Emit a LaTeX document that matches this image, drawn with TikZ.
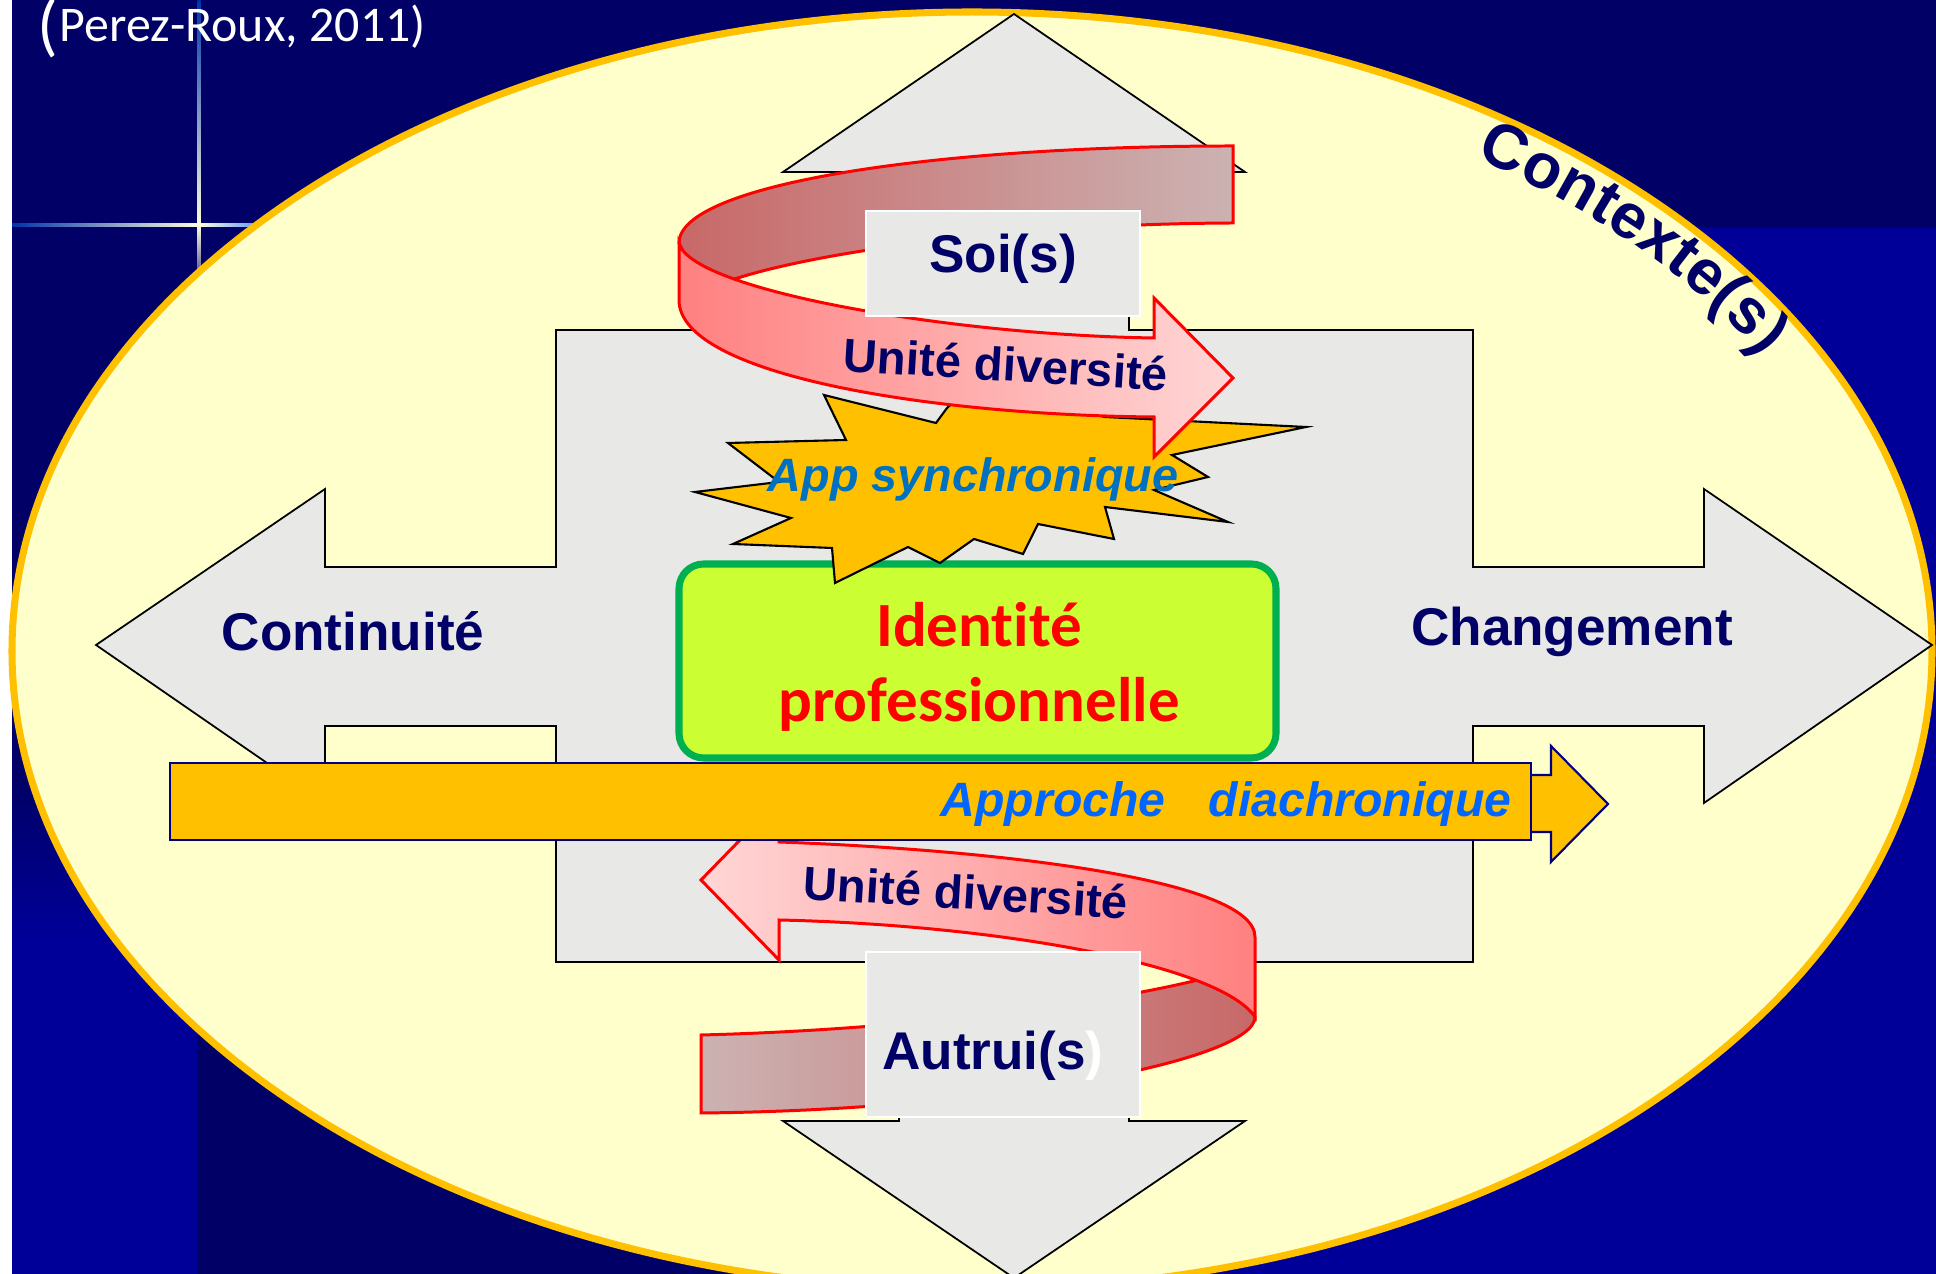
\documentclass[tikz,border=0pt]{standalone}
\usepackage{fontspec}
\setmainfont{Liberation Sans}
\newfontfamily\calfont[Ligatures=NoCommon]{Carlito}
\definecolor{navybg}{HTML}{000066}
\definecolor{bluebg}{HTML}{000099}
\definecolor{navytxt}{HTML}{000066}
\definecolor{ellfill}{HTML}{FFFFCC}
\definecolor{ellline}{HTML}{FFC000}
\definecolor{grayfill}{HTML}{E8E8E6}
\definecolor{orangefill}{HTML}{FFC000}
\definecolor{arrowline}{HTML}{000080}
\definecolor{greenline}{HTML}{00B050}
\definecolor{greenfill}{HTML}{CCFF33}
\definecolor{diablue}{HTML}{0066FF}
\definecolor{synblue}{HTML}{0070C0}
\definecolor{pinkdark}{HTML}{FF8080}
\definecolor{pinklight}{HTML}{FFD6D6}
\definecolor{backdark}{HTML}{C86868}
\definecolor{backlight}{HTML}{CCB2B2}
\definecolor{stardeep}{HTML}{0033AA}
\definecolor{starblue}{HTML}{3377FF}
\definecolor{starwhite}{HTML}{FFFFE0}
\newcommand\ctxfont{\fontsize{18pt}{21pt}\selectfont\bfseries}
\newcommand\ctxchar[3]{%
  \pgfmathsetmacro\ctxang{atan2(-589*cos(#3),910*sin(#3))}%
  \node (#1) [anchor=base, inner sep=0pt, text=navytxt, font=\ctxfont, rotate=\ctxang]
    at ({972+912*cos(#3)},{651-591*sin(#3)}) {#2};}
\begin{document}
\begin{tikzpicture}[x=0.01cm,y=-0.01cm,
  crossshape/.style={fill=grayfill, draw=black, line width=0.5pt},
  labelbox/.style={fill=grayfill, draw=white, line width=0.7pt},
  ribbon/.style={draw=red, line width=0.85pt},
  mainlbl/.style={text=navytxt, inner sep=0pt, font=\fontsize{15.1pt}{18pt}\selectfont\bfseries},
  unitelbl/.style={text=navytxt, inner sep=0pt, font=\fontsize{13.4pt}{16pt}\selectfont\bfseries},
  identlbl/.style={text=red, inner sep=0pt, font=\calfont\fontsize{17.9pt}{21pt}\selectfont\bfseries},
  orangeshape/.style={fill=orangefill, draw=arrowline, line width=0.6pt}]
\useasboundingbox (0,0) rectangle (1936,1274);
\clip (0,0) rectangle (1936,1274);
% background
\fill[white] (0,0) rectangle (1936,1274);
\fill[navybg] (12,0) rectangle (1936,1274);
\fill[bluebg] (1000,228) rectangle (1936,1274);
\shade[top color=navybg, bottom color=bluebg] (12,780) rectangle (197,940);
\fill[bluebg] (12,939) rectangle (197,1274);
% star
\shade[left color=stardeep, middle color=starblue, right color=starwhite] (12,223.5) rectangle (199,226.5);
\shade[left color=starwhite, right color=starblue] (199,223.5) rectangle (275,226.5);
\shade[top color=stardeep, middle color=starblue, bottom color=starwhite] (197.5,0) rectangle (200.5,225);
\shade[top color=starwhite, bottom color=navybg] (197.5,225) rectangle (200.5,300);
% context ellipse
\draw[ellline, line width=2pt, fill=ellfill] (972,651) ellipse [x radius=960, y radius=639];
\ctxchar{ctx1}{C}{54.91}
\ctxchar{ctx2}{o}{51.9}
\ctxchar{ctx3}{n}{49.11}
\ctxchar{ctx4}{t}{46.9}
\ctxchar{ctx5}{e}{44.79}
\ctxchar{ctx6}{x}{42.1}
\ctxchar{ctx7}{t}{39.91}
\ctxchar{ctx8}{e}{37.68}
\ctxchar{ctx9}{(}{35.43}
\ctxchar{ctx10}{s}{33.1}
\ctxchar{ctx11}{)}{30.75}
% quad arrow
\draw[crossshape] (1014,14) -- (1245,172) -- (1129,172) -- (1129,330) -- (1473,330) -- (1473,567)
  -- (1704,567) -- (1704,489) -- (1932,645) -- (1704,803) -- (1704,726) -- (1473,726)
  -- (1473,962) -- (1129,962) -- (1129,1121) -- (1245,1121) -- (1014,1278) -- (783,1121)
  -- (899,1121) -- (899,962) -- (556,962) -- (556,726) -- (325,726) -- (325,803) -- (96,645)
  -- (325,489) -- (325,567) -- (556,567) -- (556,330) -- (899,330) -- (899,172) -- (783,172) -- cycle;
% identity box
\draw[draw=greenline, line width=2pt, fill=greenfill, rounded corners=7pt] (679,564) rectangle (1276,758);
% burst
\draw[fill=orangefill, draw=black, line width=0.6pt] (824,395) -- (936,423) -- (947,408) -- (985,375)
  -- (1030,398) -- (1105,417) -- (1306,427) -- (1172,455) -- (1208,477) -- (1154,490) -- (1228,522)
  -- (1105,507) -- (1114,539) -- (1038,524) -- (1023,554) -- (974,539) -- (940,563) -- (908,547)
  -- (835,583) -- (832,548) -- (733,544) -- (791,518) -- (695,492) -- (779,482) -- (728,443)
  -- (846,440) -- cycle;
% top ribbon
\shadedraw[ribbon, left color=backdark, right color=backlight]
  (1233,146) .. controls (930,146) and (679,185) .. (679,243)
  .. controls (690,268) and (705,276) .. (726,282)
  .. controls (800,255) and (1000,224) .. (1233,223) -- cycle;
\shadedraw[ribbon, left color=pinkdark, right color=pinklight]
  (679,243) .. controls (690,290) and (950,335) .. (1154,338) -- (1154,298) -- (1233,378)
  -- (1154,457) -- (1154,417) .. controls (930,415) and (679,375) .. (679,300) -- cycle;
\draw[labelbox] (866,211) rectangle (1140,316);
% bottom ribbon
\shadedraw[ribbon, left color=backlight, right color=backdark]
  (701,1035) .. controls (900,1030) and (1100,1005) .. (1206,978)
  .. controls (1225,990) and (1250,1000) .. (1255,1017)
  .. controls (1255,1060) and (1000,1110) .. (701,1113) -- cycle;
\shadedraw[ribbon, left color=pinklight, right color=pinkdark]
  (701,880) -- (779,800) -- (779,842) .. controls (1000,850) and (1255,880) .. (1255,937)
  -- (1255,1017) .. controls (1220,965) and (1000,925) .. (779,920) -- (779,960) -- cycle;
\draw[labelbox] (866,952) rectangle (1140,1117);
% diachronic arrow
\draw[orangeshape] (1500,775) -- (1551,775) -- (1551,746) -- (1608,804) -- (1551,862) -- (1551,832) -- (1500,832) -- cycle;
\draw[orangeshape] (170,763) rectangle (1531,840);
% texts
\node (paren) [anchor=base west, inner sep=0pt, text=white, font=\calfont\fontsize{19.5pt}{23pt}\selectfont] at (37,49) {(};
\node (ref) [anchor=base west, inner sep=0pt, text=white, font=\calfont\fontsize{14.2pt}{17pt}\selectfont] at (59,42) {Perez-Roux, 2011)};
\node (soi) [mainlbl, anchor=base] at (1003,273) {Soi(s)};
\node (autrui) [mainlbl, anchor=base] at (993,1070) {Autrui(s\textcolor{white}{)}};
\node (cont) [mainlbl, anchor=base] at (353,651) {Continuité};
\node (chg) [mainlbl, anchor=base] at (1572,646) {Changement};
\node (ud1) [unitelbl, rotate=-3.5] at (1006,364) {Unité diversité};
\node (ud2) [unitelbl, rotate=-3.5] at (966,892) {Unité diversité};
\node (syn) [anchor=base, inner sep=0pt, text=synblue, font=\fontsize{13.3pt}{16pt}\selectfont\bfseries\itshape] at (973,492) {App synchronique};
\node (id1) [identlbl, anchor=base] at (979,647) {Identité};
\node (id2) [identlbl, anchor=base] at (979,722) {professionnelle};
\node (dia) [anchor=base east, inner sep=0pt, text=diablue, font=\fontsize{13.7pt}{16pt}\selectfont\bfseries\itshape] at (1512,817) {Approche\hspace{0.9em}diachronique};
\end{tikzpicture}
\end{document}
